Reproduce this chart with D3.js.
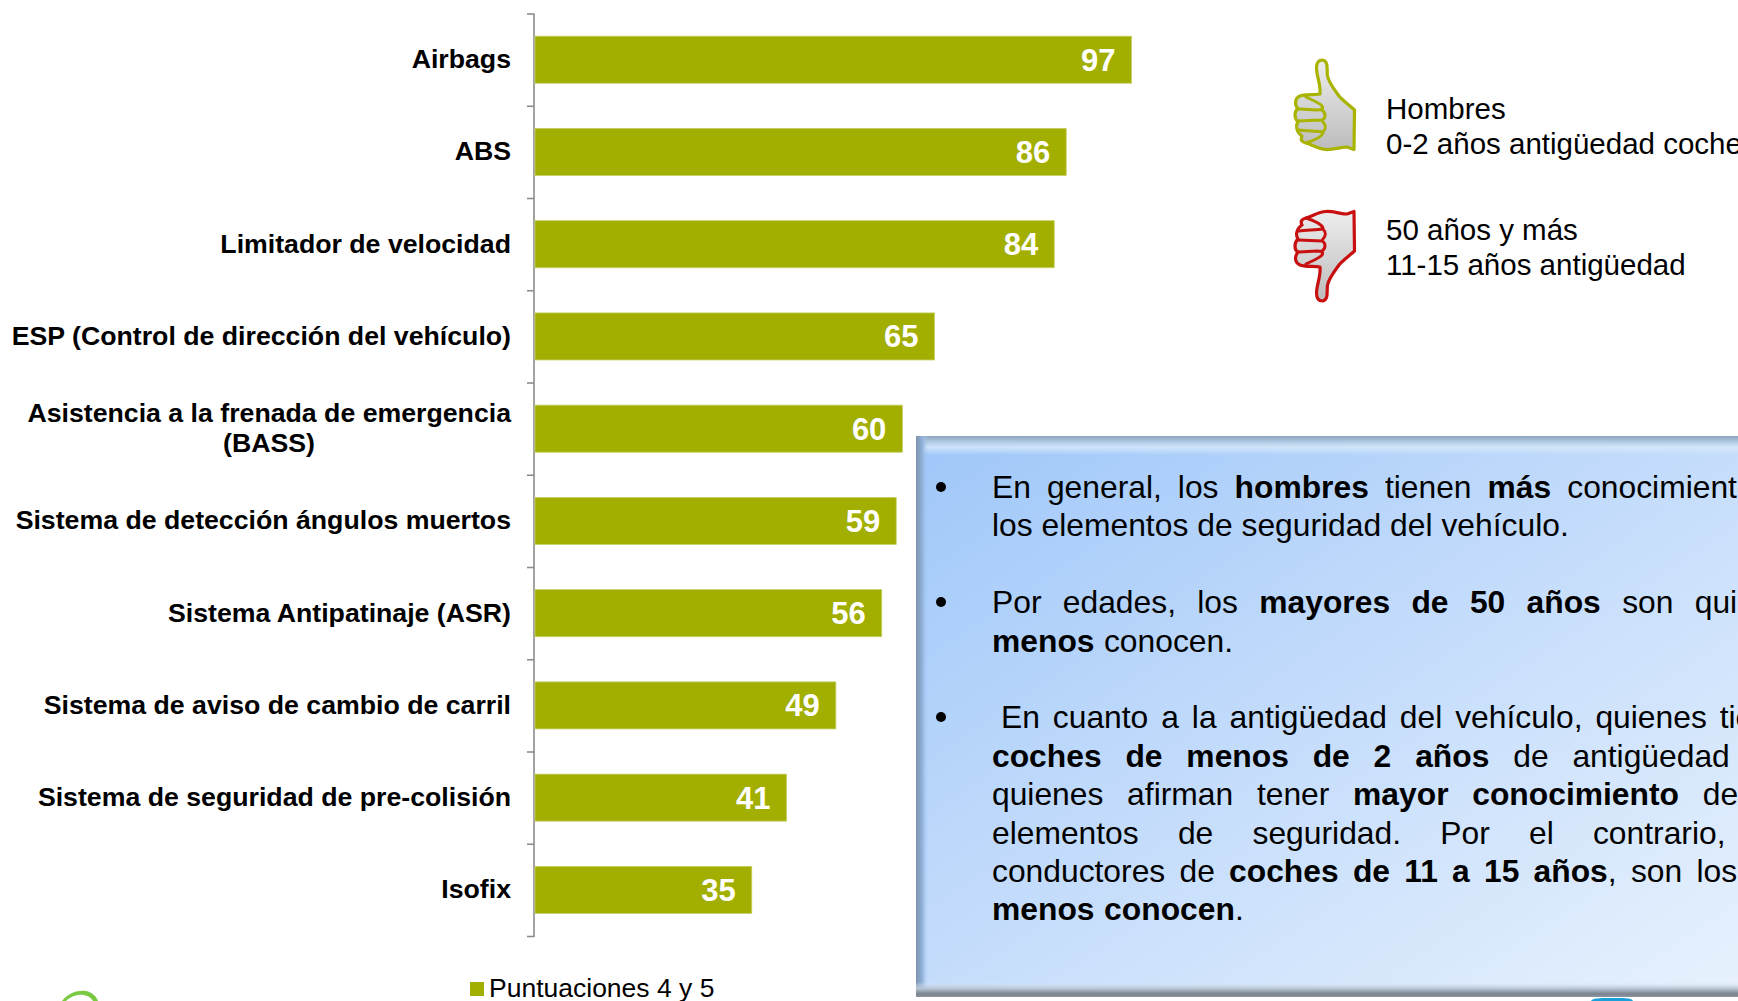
<!DOCTYPE html>
<html><head><meta charset="utf-8">
<script src="https://cdn.jsdelivr.net/npm/d3@7"></script>
<style>html,body{margin:0;padding:0;background:#fff;overflow:hidden}svg{display:block}text{font-family:"Liberation Sans",Arial,sans-serif}</style>
</head><body><svg id="c" width="1738" height="1001"></svg>
<script>
const categories=[["Airbags"],["ABS"],["Limitador de velocidad"],["ESP (Control de dirección del vehículo)"],["Asistencia a la frenada de emergencia","(BASS)"],["Sistema de detección ángulos muertos"],["Sistema Antipatinaje (ASR)"],["Sistema de aviso de cambio de carril"],["Sistema de seguridad de pre-colisión"],["Isofix"]];
const values=[97,86.4,84.45,65,59.8,58.8,56.45,49,41,35.35];
const legendLabel="Puntuaciones 4 y 5";
const upLines=["Hombres","0-2 años antigüedad coche"];
const downLines=["50 años y más","11-15 años antigüedad"];
const paragraphs=[
 [{y:498,ws:7.2,x:992,runs:[["En general, los ",0],["hombres",1],[" tienen ",0],["más",1],[" conocimiento de",0]]},
  {y:536,ws:0.1,x:992,runs:[["los elementos de seguridad del vehículo.",0]]}],
 [{y:613,ws:12.5,x:992,runs:[["Por edades, los ",0],["mayores de 50 años",1],[" son quienes",0]]},
  {y:652,ws:0.6,x:992,runs:[["menos",1],[" conocen.",0]]}],
 [{y:728,ws:4.1,x:1001,runs:[["En cuanto a la antigüedad del vehículo, quienes tienen",0]]},
  {y:767,ws:15,x:992,runs:[["coches de menos de 2 años",1],[" de antigüedad son",0]]},
  {y:805,ws:14.9,x:992,runs:[["quienes afirman tener ",0],["mayor conocimiento",1],[" de los",0]]},
  {y:844,ws:30.4,x:992,runs:[["elementos de seguridad. Por el contrario, los",0]]},
  {y:882,ws:5.4,x:992,runs:[["conductores de ",0],["coches de 11 a 15 años",1],[", son los que",0]]},
  {y:920,ws:0.8,x:992,runs:[["menos conocen",1],[".",0]]}]
];
const svg=d3.select("#c");
const defs=svg.append("defs");
const lg=(id,x2,y2,stops)=>{const g=defs.append("linearGradient").attr("id",id).attr("x1",0).attr("y1",0).attr("x2",x2).attr("y2",y2);
 stops.forEach(s=>g.append("stop").attr("offset",s[0]).attr("stop-color",s[1]).attr("stop-opacity",s[2]===undefined?1:s[2]));};
lg("box",1,1,[[0,"#9fc7f9"],[.45,"#c2dbfb"],[1,"#e8f2fd"]]);
lg("hand",0,1,[[0,"#ededed"],[1,"#bcbcbc"]]);
lg("hand2",0,1,[[0,"#bcbcbc"],[1,"#ededed"]]);
lg("topB",0,1,[[0,"#8ea3bb"],[.25,"#a9c3dd"],[.6,"#d8eafb",.8],[1,"#d8eafb",0]]);
lg("leftB",1,0,[[0,"#7f93ab"],[.5,"#8fb0d8"],[1,"#a6c9f5",0]]);
lg("botB",0,1,[[0,"#dfe9f5",0],[.45,"#b6c3d2"],[.8,"#79828e"],[1,"#8f97a1"]]);

const x=d3.scaleLinear().domain([0,100]).range([534,1150]);
const band=d3.scaleBand().domain(d3.range(values.length)).range([14,936.5]);
const y=d3.scaleBand().domain(d3.range(values.length)).range([13.6,936]).paddingInner(0.49).paddingOuter(0.245);
const axisG=svg.append("g");
axisG.append("line").attr("x1",534).attr("x2",534).attr("y1",13.5).attr("y2",937).attr("stroke","#8c8c8c").attr("stroke-width",1.6);
d3.range(values.length+1).forEach(i=>{const t=14+band.step()*i;
 axisG.append("line").attr("x1",527).attr("x2",534).attr("y1",t).attr("y2",t).attr("stroke","#8c8c8c").attr("stroke-width",1.6);});
svg.append("g").selectAll("rect").data(values).join("rect")
 .attr("x",x(0)+1).attr("y",(d,i)=>y(i)).attr("width",d=>x(d)-x(0)-1).attr("height",y.bandwidth())
 .attr("fill","#a2ae00").attr("stroke","#c5cf63").attr("stroke-width",0.8);
svg.append("g").selectAll("text").data(values).join("text")
 .attr("x",d=>x(d)-16).attr("y",(d,i)=>y(i)+y.bandwidth()/2+11).attr("text-anchor","end")
 .attr("fill","#fff").attr("font-weight",700).attr("font-size",31).text(d=>d3.format(".0f")(d));
const lab=svg.append("g");
categories.forEach((c,i)=>{const cy=band(i)+band.step()/2;
 if(c.length===1){lab.append("text").attr("x",511).attr("y",cy+8).attr("text-anchor","end").attr("font-size",26.7).attr("font-weight",700).attr("fill","#000").text(c[0]);}
 else{lab.append("text").attr("x",511).attr("y",cy-7).attr("text-anchor","end").attr("font-size",26.7).attr("font-weight",700).text(c[0]);
  lab.append("text").attr("x",269).attr("y",cy+23).attr("text-anchor","middle").attr("font-size",26.7).attr("font-weight",700).text(c[1]);}
});
svg.append("rect").attr("x",470).attr("y",982).attr("width",14).attr("height",14).attr("fill","#a2ae00");
svg.append("text").attr("x",489).attr("y",997).attr("font-size",26.5).text(legendLabel);

const upPath="M1322.5 60 C1318 60 1316.5 64 1316.5 68 C1316.5 76 1321 85 1320 94 C1314 95 1304 94 1300 96 C1295 98 1294 104 1298 109 C1294 111 1294 118 1298 122 C1295 126 1297 133 1302 136 C1300 140 1302 142 1306 143 C1313 145 1318 149 1326 149.5 C1333 150 1341 147 1347 147 L1354 149.5 L1354.5 110 C1349 105 1342 100 1339 96 C1334 89 1329 83 1327.5 76 C1326.5 70 1329 61 1322.5 60 Z";
const fingers="M1306 97 C1312 100 1320 103 1322 106 C1324 109 1321 110 1317 110 L1299 109 M1322 110 C1326 113 1326 118 1322 120 L1298 121 M1323 122 C1326 125 1326 129 1323 132 C1316 131 1306 131 1299 130 M1323 133 C1322 137 1315 140 1306 143";
function hand(g,color,fill){
 g.append("path").attr("d",upPath).attr("fill",fill).attr("stroke",color).attr("stroke-width",3.2).attr("stroke-linejoin","round");
 g.append("path").attr("d",fingers).attr("fill","none").attr("stroke",color).attr("stroke-width",3).attr("stroke-linecap","round");
}
hand(svg.append("g"),"#a9b400","url(#hand)");
hand(svg.append("g").attr("transform","translate(0,361) scale(1,-1)"),"#c81010","url(#hand2)");
const wr=(arr,ys)=>arr.forEach((t,i)=>svg.append("text").attr("x",1386).attr("y",ys[i]).attr("font-size",29.5).attr("fill","#000").text(t));
wr(upLines,[119,154]);wr(downLines,[240,275]);

const bx=svg.append("g");
bx.append("rect").attr("x",916).attr("y",436).attr("width",840).attr("height",561).attr("fill","url(#box)");
bx.append("rect").attr("x",916).attr("y",436).attr("width",840).attr("height",19).attr("fill","url(#topB)");
bx.append("rect").attr("x",916).attr("y",436).attr("width",12).attr("height",561).attr("fill","url(#leftB)");
bx.append("rect").attr("x",916).attr("y",982).attr("width",840).attr("height",15).attr("fill","url(#botB)");
const tx=svg.append("g");
paragraphs.forEach(p=>{
 tx.append("circle").attr("cx",941).attr("cy",p[0].y-11).attr("r",5).attr("fill","#000");
 p.forEach(l=>{const t=tx.append("text").attr("x",l.x).attr("y",l.y).attr("font-size",31.8).attr("word-spacing",l.ws).style("white-space","pre");
  l.runs.forEach(r=>t.append("tspan").attr("font-weight",r[1]?700:400).text(r[0]));});
});
svg.append("path").attr("d","M62 1001 C68 993 78 990 86 991 C92 992 97 997 98 1001 L93 1001 C90 996 84 994 78 995 C72 996 68 999 66 1001 Z").attr("fill","#7ac943");
svg.append("path").attr("d","M1591 1001 C1593 998 1598 998 1612 998 C1628 998 1631 998 1633 1001 Z").attr("fill","#1a9fd8");
</script></body></html>
